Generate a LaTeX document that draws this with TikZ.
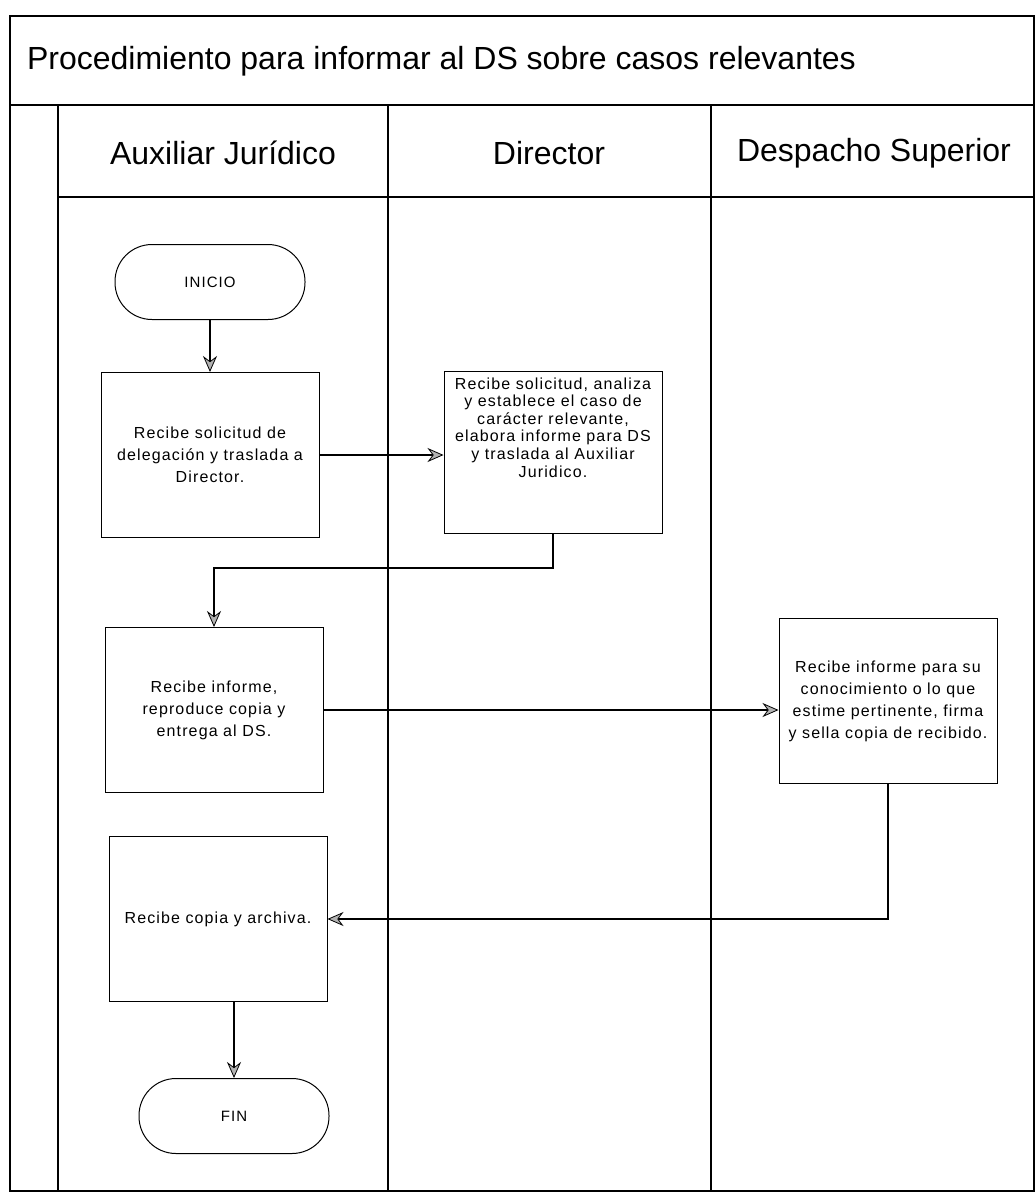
\documentclass[tikz,border=0pt]{standalone}
\usepackage{fontspec}
\setmainfont{Liberation Sans}
\newfontfamily\boxfont[LetterSpace=7]{Liberation Sans}
\usetikzlibrary{arrows.meta}

\tikzset{
  frameline/.style={line width=1pt},
  procbox/.style={draw, line width=0.5pt, minimum width=109pt, minimum height=82.5pt,
    align=center, inner sep=0pt, font=\boxfont\fontsize{8}{11}\selectfont},
  termbox/.style={draw, line width=0.5pt, rounded corners=18.5pt, minimum width=95pt,
    minimum height=37.5pt, inner sep=0pt, font=\boxfont\fontsize{7.5}{9}\selectfont},
  flow/.style={line width=0.8pt,
    -{Stealth[length=8pt, width=7pt, inset=2.6pt, fill=gray!60, line width=0.4pt]}},
  lanehead/.style={font=\fontsize{16}{19}\selectfont},
}

\begin{document}
\begin{tikzpicture}[x=0.5pt, y=-0.5pt]
  \useasboundingbox (0,0) rectangle (1036,1196);

  % pool frame, title band and lane headers
  \draw[frameline] (10,16) rectangle (1034,1191);
  \draw[frameline] (10,105) -- (1034,105);
  \draw[frameline] (58,197) -- (1034,197);
  \draw[frameline] (58,105) -- (58,1191);
  \draw[frameline] (388,105) -- (388,1191);
  \draw[frameline] (711,105) -- (711,1191);

  \node[anchor=west, font=\fontsize{16}{19}\selectfont] (title) at (20,61)
    {Procedimiento para informar al DS sobre casos relevantes};
  \node[lanehead] (hAux) at (223,153) {Auxiliar Jurídico};
  \node[lanehead] (hDir) at (549,153) {Director};
  \node[lanehead] (hDes) at (874,153) {Despacho Superior};

  % process steps
  \node[termbox] (ini) at (210,282) {INICIO};
  \node[procbox] (recv) at (210,455)
    {Recibe solicitud de\\delegación y traslada a\\Director.};
  \node[procbox, font=\boxfont\fontsize{8}{8.8}\selectfont, minimum height=81pt] (dir) at (553,452)
    {Recibe solicitud, analiza\\y establece el caso de\\carácter relevante,\\elabora informe para DS\\y traslada al Auxiliar\\Juridico.\\[16pt]};
  \node[procbox] (inf) at (214,710)
    {Recibe informe,\\reproduce copia y\\entrega al DS.};
  \node[procbox] (des) at (888,701)
    {Recibe informe para su\\conocimiento o lo que\\estime pertinente, firma\\y sella copia de recibido.};
  \node[procbox] (arch) at (218,919) {Recibe copia y archiva.};
  \node[termbox] (fin) at (234,1116) {FIN};

  % connectors
  \coordinate (j1) at (553,568);
  \draw[flow] (ini.south) -- (recv.north);
  \draw[flow] (recv.east) -- (recv.east -| dir.west);
  \draw[flow] (dir.south) -- (j1) -| (inf.north);
  \draw[flow] (inf.east) -- (inf.east -| des.west);
  \draw[flow] (des.south) |- (arch.east);
  \draw[flow] (arch.south -| fin.north) -- (fin.north);
\end{tikzpicture}
\end{document}
